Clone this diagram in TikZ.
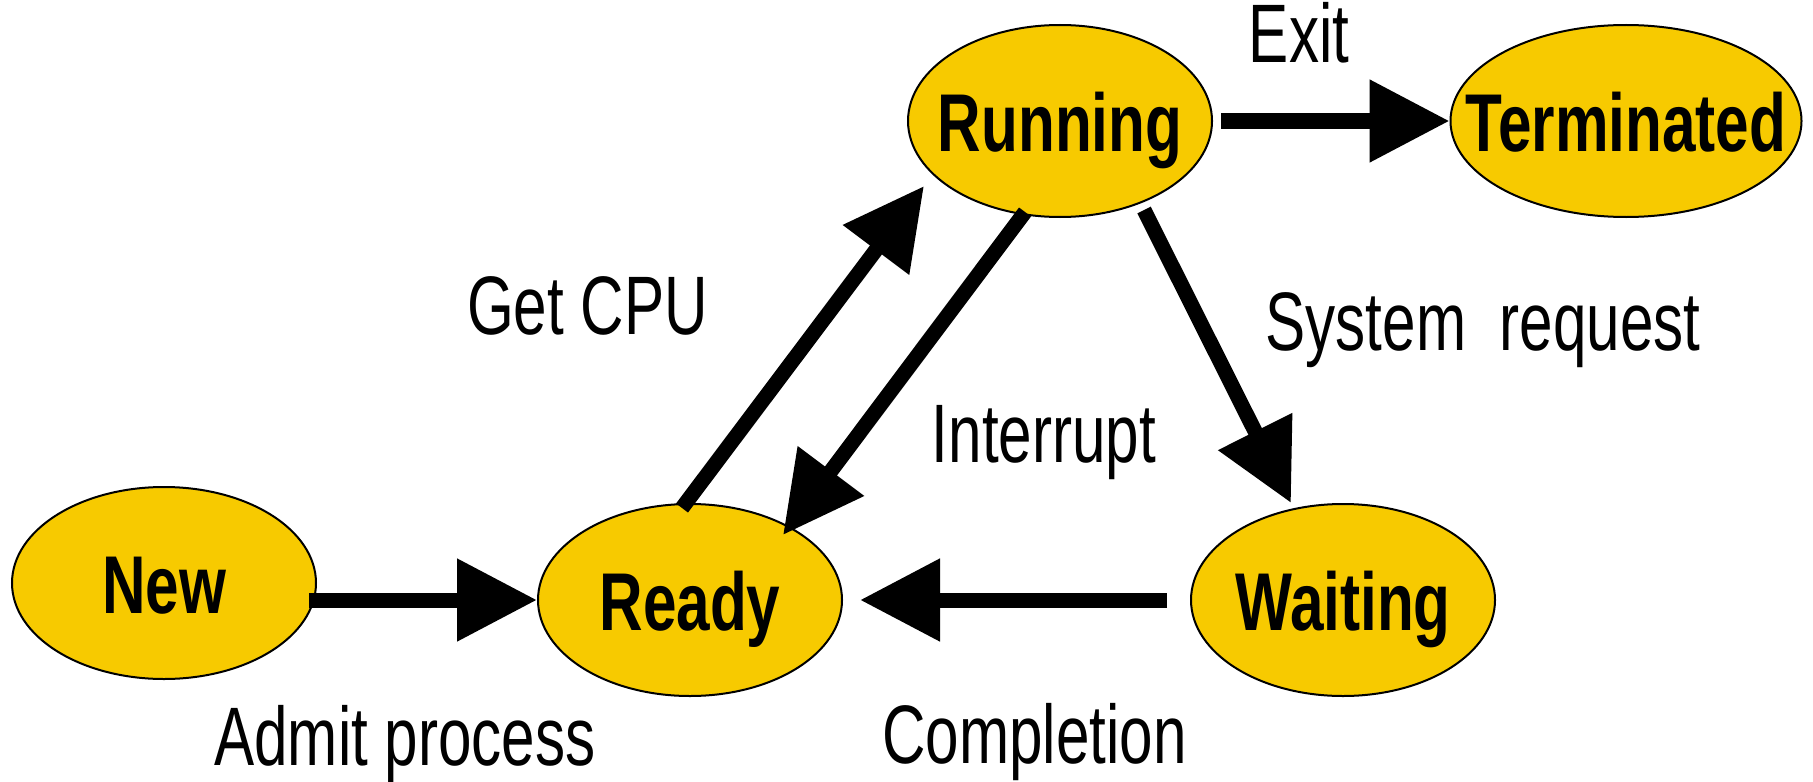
\documentclass[tikz,border=0pt]{standalone}
\usepackage{fontspec}
\setmainfont{Liberation Sans}
\newfontfamily\labfont{Liberation Sans}[FakeStretch=0.725]
\newfontfamily\stfont{Liberation Sans}[FakeStretch=0.735]
\usetikzlibrary{shapes.geometric,arrows.meta,calc}
\definecolor{stfill}{RGB}{247,202,0}
\begin{document}
\begin{tikzpicture}[x=0.5pt,y=-0.5pt,
  state/.style={ellipse, draw=black, line width=1pt, fill=stfill,
    minimum width=152pt, minimum height=96pt, inner sep=0pt},
  sttext/.style={font=\stfont\bfseries\fontsize{41}{44}\selectfont,
    inner sep=0pt, text height=30pt, text depth=0pt},
  lab/.style={font=\labfont\fontsize{41.5}{45}\selectfont, inner sep=0pt, anchor=base},
  arr/.style={line width=7.5pt, -{Triangle[length=40pt,width=39.5pt]}}]
\fill[white] (0,0) rectangle (1813,781);
\useasboundingbox (0,0) rectangle (1813,781);

\node[state] (new) at (164,583) {};
\node[state] (ready) at (690,600) {};
\node[state] (running) at (1060,121) {};
\node[state, minimum width=175.5pt] (terminated) at (1626,121) {};
\node[state] (waiting) at (1343,600) {};

\draw[arr] ($(new.east |- ready)+(-8,0)$) -- (ready.west);
\draw[arr] ($(waiting.west)+(-23,0)$) -- ($(ready.east)+(17,0)$);
\draw[arr] ($(running.east)+(8,0)$) -- (terminated.west);
\draw[arr] ($(ready)+(-8,-92)$) -- ($(running)+(-136,65)$);
\draw[arr] ($(running)+(-35,91)$) -- ($(ready)+(93,-65)$);
\draw[arr] ($(running)+(84,89)$) -- ($(waiting)+(-52,-97)$);

\node[sttext] (newt) at (new) {New};
\node[sttext] (readyt) at (ready) {Ready};
\node[sttext] (runningt) at (running) {Running};
\node[sttext] (terminatedt) at (terminated) {Terminated};
\node[sttext] (waitingt) at (waiting) {Waiting};

\node[lab] (lexit) at (1299,63) {Exit};
\node[lab] (lcpu) at (587.5,334) {Get CPU};
\node[lab] (lint) at (1044,462) {Interrupt};
\node[lab] (lsys) at (1483,350) {System\ \ request};
\node[lab] (ladmit) at (405,765) {Admit process};
\node[lab] (lcomp) at (1034.5,763) {Completion};
\end{tikzpicture}
\end{document}
